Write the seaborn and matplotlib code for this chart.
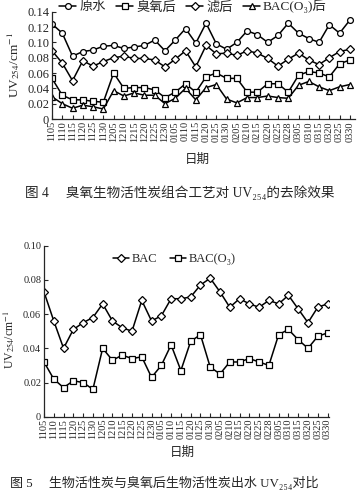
import matplotlib
matplotlib.use("Agg")
import numpy as np
import pandas as pd
import matplotlib.pyplot as plt
import seaborn as sns

# ---------------- data ----------------
dates = ['1105', '1110', '1115', '1120', '1125', '1130', '1205', '1210', '1215', '1220',
         '1225', '1230', '0105', '0110', '0115', '0120', '0125', '0130', '0205', '0210',
         '0215', '0220', '0225', '0228', '0305', '0310', '0315', '0320', '0325', '0330']

# Fig.4
raw_water = [0.124, 0.112, 0.082, 0.088, 0.090, 0.095, 0.096, 0.092, 0.094, 0.096,
             0.103, 0.089, 0.103, 0.118, 0.099, 0.125, 0.098, 0.091, 0.100, 0.115,
             0.110, 0.100, 0.109, 0.125, 0.112, 0.105, 0.100, 0.123, 0.112, 0.129]
after_ozone = [0.053, 0.031, 0.025, 0.025, 0.023, 0.022, 0.060, 0.040, 0.041, 0.041,
               0.038, 0.028, 0.035, 0.046, 0.035, 0.055, 0.060, 0.053, 0.053, 0.035,
               0.035, 0.046, 0.046, 0.035, 0.057, 0.062, 0.060, 0.055, 0.072, 0.077]
after_filter = [0.089, 0.073, 0.050, 0.076, 0.069, 0.075, 0.080, 0.082, 0.079, 0.079,
                0.077, 0.068, 0.078, 0.089, 0.068, 0.096, 0.085, 0.086, 0.083, 0.089,
                0.086, 0.079, 0.069, 0.078, 0.086, 0.077, 0.071, 0.080, 0.088, 0.091]
after_bac_o3 = [0.029, 0.020, 0.014, 0.018, 0.016, 0.013, 0.037, 0.030, 0.034, 0.031,
                0.031, 0.020, 0.027, 0.040, 0.025, 0.041, 0.045, 0.026, 0.021, 0.028,
                0.028, 0.030, 0.028, 0.027, 0.044, 0.049, 0.042, 0.037, 0.042, 0.045]
series4 = ['原水', '臭氧后', '滤后', 'BAC(O₃)后']
yticks4 = [0, 0.02, 0.04, 0.06, 0.08, 0.10, 0.12, 0.14]
yticklabels4 = ['0', '0.02', '0.04', '0.06', '0.08', '0.10', '0.12', '0.14']

# Fig.5
bac = [0.073, 0.056, 0.040, 0.051, 0.055, 0.058, 0.066, 0.056, 0.052, 0.050,
       0.068, 0.056, 0.059, 0.069, 0.069, 0.070, 0.077, 0.081, 0.073, 0.064,
       0.069, 0.066, 0.064, 0.068, 0.066, 0.071, 0.063, 0.055, 0.064, 0.066]
bac_o3 = [0.032, 0.022, 0.017, 0.021, 0.020, 0.016, 0.040, 0.033, 0.036, 0.034,
          0.035, 0.023, 0.030, 0.042, 0.027, 0.044, 0.048, 0.029, 0.025, 0.032,
          0.032, 0.034, 0.032, 0.030, 0.048, 0.051, 0.045, 0.040, 0.047, 0.049]
series5 = ['BAC', 'BAC(O₃)']
yticks5 = [0, 0.02, 0.04, 0.06, 0.08, 0.10]
yticklabels5 = ['0', '0.02', '0.04', '0.06', '0.08', '0.10']

ylabel = 'UV$_{254}$/cm$^{-1}$'
xlabel = '日期'
caption4 = '图 4     臭氧生物活性炭组合工艺对 UV₂₅₄的去除效果'
caption5 = '图 5     生物活性炭与臭氧后生物活性炭出水 UV₂₅₄对比'

# ---------------- style ----------------
sns.set_style("ticks")
FAM = ['Liberation Serif', 'Noto Sans CJK SC', 'DejaVu Sans']
plt.rcParams['font.family'] = FAM
plt.rcParams['mathtext.fontset'] = 'stix'
plt.rcParams['axes.linewidth'] = 0.9

W, H = 362, 494
fig = plt.figure(figsize=(W / 100, H / 100), dpi=100)
fig.patch.set_facecolor('white')

x = np.arange(len(dates))


def draw(ax, values_list, names, markers, msizes):
    for vals, name, mk, ms in zip(values_list, names, markers, msizes):
        df = pd.DataFrame({'x': x, 'y': vals})
        sns.lineplot(data=df, x='x', y='y', ax=ax, color='black', lw=1.1,
                     marker=mk, markersize=ms, markerfacecolor='white',
                     markeredgecolor='black', markeredgewidth=0.9, label=name,
                     legend=False)


def style_axes(ax, yt, ytl, ylim, xlim, tfs, xfs):
    ax.set_xlim(*xlim)
    ax.set_ylim(*ylim)
    ax.set_yticks(yt)
    ax.set_yticklabels(ytl, fontsize=tfs)
    ax.set_xticks(x)
    ax.set_xticklabels(dates, rotation=90, fontsize=xfs)
    ax.tick_params(axis='both', direction='in', length=3, width=0.8, pad=2)
    ax.tick_params(axis='x', pad=1.5)
    ax.set_xlabel('')
    ax.set_ylabel('')
    sns.despine(ax=ax)
    ax.set_facecolor('white')


# ---- Figure 4 ----
ax1 = fig.add_axes([52 / W, 1 - 119 / H, 303 / W, 107.3 / H])
draw(ax1, [raw_water, after_ozone, after_filter, after_bac_o3], series4,
     ['o', 's', 'D', '^'], [4.2, 4.0, 3.6, 4.2])
style_axes(ax1, yticks4, yticklabels4, (0, 0.14), (0, 29.5), 9, 7.5)
ax1.set_ylabel(ylabel, fontsize=9.5)
ax1.yaxis.set_label_coords(-0.10, 0.5)
h, l = ax1.get_legend_handles_labels()
fig.legend(h, l, loc='center', bbox_to_anchor=(193 / W, 1 - 6.5 / H), ncol=4,
           frameon=False, fontsize=9.5, handlelength=1.3, handletextpad=0.2,
           columnspacing=0.8, borderaxespad=0, borderpad=0)
fig.text(197 / W, 1 - 160 / H, xlabel, fontsize=9, ha='center', va='center')
fig.text(180 / W, 1 - 193 / H, caption4, fontsize=9.8, ha='center', va='center')

# ---- Figure 5 ----
ax2 = fig.add_axes([44 / W, 1 - 416.7 / H, 285 / W, 171 / H])
draw(ax2, [bac, bac_o3], series5, ['D', 's'], [3.6, 4.0])
style_axes(ax2, yticks5, yticklabels5, (0, 0.10), (0, 29.15), 7.5, 7.5)
ax2.set_ylabel(ylabel, fontsize=8.5)
ax2.yaxis.set_label_coords(-0.095, 0.45)
h, l = ax2.get_legend_handles_labels()
fig.legend(h, l, loc='center', bbox_to_anchor=(174 / W, 1 - 259 / H), ncol=2,
           frameon=False, fontsize=9, handlelength=1.3, handletextpad=0.2,
           columnspacing=1.0, borderaxespad=0, borderpad=0)
fig.text(182 / W, 1 - 453 / H, xlabel, fontsize=9, ha='center', va='center')
fig.text(164 / W, 1 - 483 / H, caption5, fontsize=9.4, ha='center', va='center')

fig.savefig('out.png', dpi=100, facecolor='white')
